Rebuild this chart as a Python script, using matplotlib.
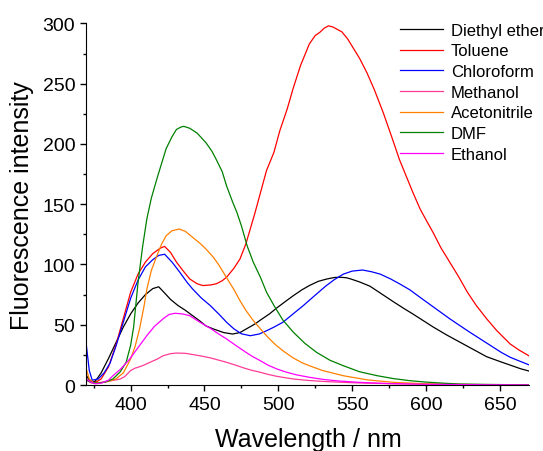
import matplotlib
matplotlib.use('Agg')
import matplotlib.pyplot as plt
from matplotlib.ticker import MultipleLocator

plt.rcParams['font.family'] = ['Liberation Sans', 'DejaVu Sans']

# emission spectra (wavelength in nm, intensity a.u.)
ether_wl = [370, 372, 374, 376, 380, 385, 390, 395, 400, 405, 410, 415, 419, 424, 427, 432, 437, 442,
            447, 451, 456, 463, 469, 474, 479, 484, 488, 494, 499, 505, 510, 516, 521, 527, 533, 538,
            542, 546, 549, 555, 562, 570, 578, 585, 591, 598, 605, 614, 623, 632, 641, 650, 657, 664, 670]
ether_i = [8, 4, 3, 3, 10, 22, 35, 48, 59, 68, 75, 80, 81.5, 75, 71, 66, 62, 57.5,
           53, 49, 46.5, 43.5, 42.3, 43.5, 47, 50.5, 54, 59, 64, 69.5, 74, 79, 82.5, 86, 88, 89.2,
           89.4, 89, 88, 85.5, 82, 75.5, 69, 63.5, 59, 53.5, 48, 41.5, 35.5, 29.5, 23.5, 19.5, 16.5, 13.5, 11.5]

toluene_wl = [370, 373, 376, 380, 385, 390, 395, 400, 405, 410, 415, 420, 423, 427, 431, 436, 440, 445,
              449, 454, 458, 462, 465, 470, 474, 478, 481, 484, 488, 492, 497, 501, 506, 510, 515, 521,
              525, 528, 531, 534, 537, 540, 543, 547, 551, 555, 560, 565, 571, 577, 582, 587, 591, 596,
              600, 605, 610, 616, 622, 628, 634, 641, 648, 657, 663, 670]
toluene_i = [5, 2, 2, 5, 15, 33, 55, 77, 92, 102, 109, 113.5, 115, 110, 102, 94, 88, 84,
             82.5, 83, 84, 86.5, 89.5, 97, 104.5, 117, 129.5, 142, 160, 178, 193, 211, 229, 246, 265, 283,
             290, 292.5, 296, 298, 297, 295, 293, 287, 279, 271, 259, 245, 226, 205, 187, 172, 160, 146,
             137, 126, 114, 102, 90, 77, 66, 55, 45, 34, 29, 24]

chloro_wl = [370, 372, 374, 378, 382, 386, 390, 395, 400, 405, 410, 415, 419, 423, 428, 433, 438, 442,
             448, 454, 460, 465, 470, 475, 481, 487, 492, 497, 503, 510, 517, 524, 532, 538, 544, 550,
             557, 563, 569, 576, 582, 589, 596, 603, 610, 616, 623, 630, 637, 644, 651, 657, 664, 670]
chloro_i = [33, 12, 4, 5, 10, 18, 32, 52, 72, 87, 98, 104, 107.5, 108.5, 102, 94, 85.5, 79.6,
            72, 65.8, 58.5, 52, 46.5, 42.5, 40.9, 42.3, 45, 48, 52, 59, 66, 73.5, 82, 87.5, 92, 94.5,
            95.4, 94, 92, 88, 84, 79, 72.7, 66.5, 60.3, 55, 49.2, 43.5, 38, 32.5, 27, 23, 19.5, 16.6]

methanol_wl = [370, 373, 376, 379, 384, 389, 393, 396, 400, 403, 405, 409, 413, 418, 422, 427, 431, 437,
               442, 448, 454, 460, 465, 471, 477, 482, 488, 493, 499, 505, 510, 520, 530, 544, 560, 580,
               610, 640, 670]
methanol_i = [4, 2, 1.5, 2, 3, 4, 5, 7, 12, 14, 14.7, 16.5, 18.8, 21.5, 24.3, 26, 26.5, 26.3,
              25.3, 24, 22.5, 20.5, 18.8, 16.5, 14, 12.2, 10.5, 8.8, 7.2, 6, 5, 3.8, 3, 2.2, 1.5, 1,
              0.5, 0.3, 0.2]

acn_wl = [370, 372, 375, 380, 385, 390, 395, 400, 403, 406, 409, 411, 414, 418, 421, 424, 428, 433,
          437, 442, 447, 451, 456, 460, 465, 470, 474, 478, 483, 488, 493, 498, 503, 510, 516, 521,
          530, 544, 560, 578, 600, 630, 670]
acn_i = [13, 5, 2, 2, 3, 5, 10, 21.6, 32, 46.4, 65, 79.6, 95, 108, 117, 123.8, 128, 129.4,
         127.5, 122.5, 117.5, 112.8, 106, 99, 89, 79, 70, 62, 53.5, 46.4, 39.5, 33.5, 28.5, 22.5, 18.5, 16,
         12, 7.7, 4.3, 2.2, 1, 0.4, 0.2]

dmf_wl = [370, 374, 378, 383, 388, 393, 397, 400, 402, 405, 408, 411, 414, 418, 421, 424, 428, 431,
          434, 436, 440, 445, 448, 451, 455, 458, 462, 465, 469, 472, 475, 479, 483, 488, 492, 497,
          503, 510, 518, 526, 535, 544, 555, 567, 578, 589, 600, 612, 623, 640, 655, 670]
dmf_i = [4, 2, 1.5, 2.5, 5, 11, 19, 33, 48, 85, 114, 138, 155, 172, 184, 196, 206, 212,
         214, 214.6, 213, 209, 205, 201, 194, 187, 177, 165, 152, 143, 132, 115, 102, 89, 77, 66,
         54, 44, 34.5, 27, 20.5, 16, 11, 7.7, 5.3, 3.6, 2.4, 1.5, 0.8, 0.5, 0.3, 0.2]

ethanol_wl = [370, 373, 376, 380, 385, 388, 393, 399, 405, 411, 416, 422, 426, 430, 435, 440, 447, 454,
              460, 465, 471, 477, 482, 488, 493, 499, 505, 512, 521, 530, 540, 555, 575, 600, 640, 670]
ethanol_i = [5, 2.5, 1, 1.5, 4, 7.7, 13, 21, 31, 41, 48.5, 55, 58.5, 59.5, 59, 57.5, 52, 47,
             42, 38.2, 33, 28, 24, 20, 16.5, 13.3, 10.8, 8.5, 6.4, 4.7, 3.4, 2.2, 1.2, 0.6, 0.2, 0.1]

labels = ['Diethyl ether', 'Toluene', 'Chloroform', 'Methanol', 'Acetonitrile', 'DMF', 'Ethanol']
colors = ['black', '#ff0000', '#0000ff', '#ff3c96', '#ff8000', '#008000', '#ff00ff']
series = [(ether_wl, ether_i), (toluene_wl, toluene_i), (chloro_wl, chloro_i),
          (methanol_wl, methanol_i), (acn_wl, acn_i), (dmf_wl, dmf_i), (ethanol_wl, ethanol_i)]

fig = plt.figure(figsize=(5.43, 4.52), dpi=100)
ax = fig.add_axes([0.159, 0.146, 0.816, 0.80])

for (wl, inten), lab, c in zip(series, labels, colors):
    ax.plot(wl, inten, color=c, lw=0.9, label=lab)

ax.set_xlim(370, 670)
ax.set_ylim(0, 300)
ax.xaxis.set_major_locator(MultipleLocator(50))
ax.xaxis.set_minor_locator(MultipleLocator(25))
ax.yaxis.set_major_locator(MultipleLocator(50))
ax.yaxis.set_minor_locator(MultipleLocator(25))
ax.spines['top'].set_visible(False)
ax.spines['right'].set_visible(False)
ax.tick_params(which='major', direction='out', length=4.5, width=1, labelsize=14, pad=3.5)
ax.tick_params(which='minor', direction='out', length=2.5, width=1)
ax.set_xticks([400, 450, 500, 550, 600, 650])

ax.set_xlabel('Wavelength / nm', fontsize=18, labelpad=10)
ax.set_ylabel('Fluorescence intensity', fontsize=18, labelpad=6)

ax.legend(loc='upper left', bbox_to_anchor=(0.70, 1.011), frameon=False, fontsize=12,
          handlelength=2.6, handletextpad=0.45, labelspacing=0.34, borderaxespad=0.0,
          borderpad=0.2)

plt.savefig('out.png', dpi=100)
